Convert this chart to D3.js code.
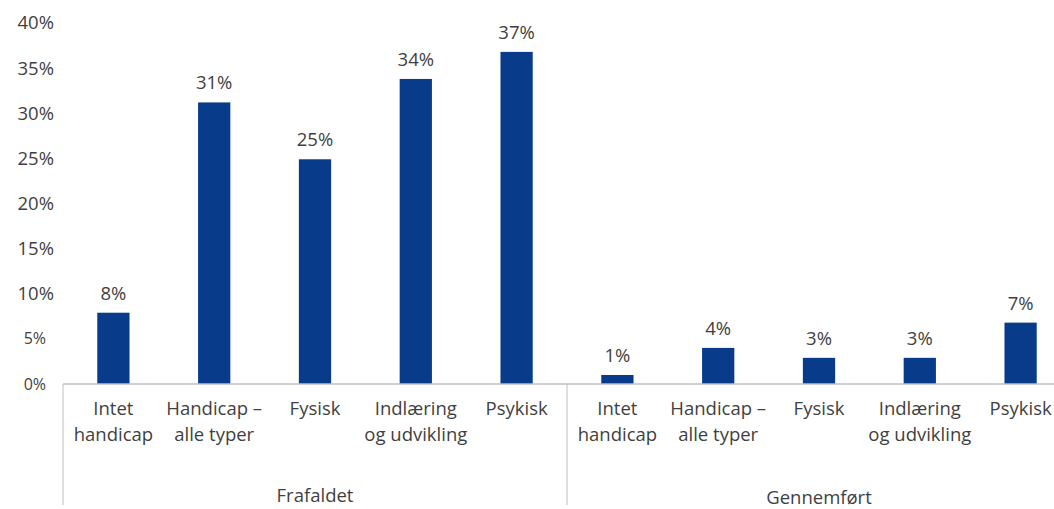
<!DOCTYPE html>
<html>
<head>
<meta charset="utf-8">
<script src="https://cdn.jsdelivr.net/npm/d3@7"></script>
<style>
  body { margin: 0; background: #fff; overflow: hidden; }
  text { font-family: "Open Sans", sans-serif; fill: #3f3f3f; }
</style>
</head>
<body>
<script>
let width = 1054;
let height = 509;

// data
let groups = ["Frafaldet", "Gennemført"];
let categories = ["Intet\nhandicap", "Handicap –\nalle typer", "Fysisk", "Indlæring\nog udvikling", "Psykisk"];
let frafaldet = [0.079, 0.312, 0.249, 0.338, 0.368];
let gennemfort = [0.010, 0.040, 0.029, 0.029, 0.068];
let yTicks = [0, 0.05, 0.10, 0.15, 0.20, 0.25, 0.30, 0.35, 0.40];

let rows = [];
groups.forEach((g, i) => {
	let vals = i === 0 ? frafaldet : gennemfort;
	categories.forEach((c, j) => rows.push({ group: g, cat: c, value: vals[j] }));
});

let svg = d3.select("body")
.append("svg")
.attr("width", width)
.attr("height", height);

let x0 = d3.scaleBand().domain(groups).range([63, 1071]);
let x1 = d3.scaleBand().domain(categories).range([0, x0.bandwidth()])
.paddingInner(0.68).paddingOuter(0.34);
let y = d3.scaleLinear().domain([0, 0.40]).range([384, 23]);
let pct = d3.format(".0%");

// y tick labels
svg.append("g")
.selectAll("text")
.data(yTicks)
.enter()
.append("text")
.attr("x", d => d < 0.1 ? 46 : 54)
.attr("y", d => y(d))
.attr("dy", "0.35em")
.attr("text-anchor", "end")
.attr("font-size", d => d < 0.1 ? 16 : 18.5)
.text(pct);

// bars
svg.append("g")
.selectAll("rect")
.data(rows)
.enter()
.append("rect")
.attr("x", d => x0(d.group) + x1(d.cat))
.attr("y", d => y(d.value))
.attr("width", x1.bandwidth())
.attr("height", d => y(0) - y(d.value))
.attr("fill", "#083c8a");

// value labels
svg.append("g")
.selectAll("text")
.data(rows)
.enter()
.append("text")
.attr("x", d => x0(d.group) + x1(d.cat) + x1.bandwidth() / 2)
.attr("y", d => y(d.value) - 13)
.attr("text-anchor", "middle")
.attr("font-size", 18.5)
.text(d => pct(d.value));

// baseline
svg.append("line")
.attr("x1", 63).attr("x2", 1071)
.attr("y1", y(0)).attr("y2", y(0))
.attr("stroke", "#bfbfbf")
.attr("stroke-width", 1.5);

// group separators
svg.append("g")
.selectAll("line")
.data(groups.map(g => x0(g)).concat([x0.range()[1]]))
.enter()
.append("line")
.attr("x1", d => d).attr("x2", d => d)
.attr("y1", y(0)).attr("y2", 505)
.attr("stroke", "#bfbfbf")
.attr("stroke-width", 1);

// category labels
let catLabel = svg.append("g")
.selectAll("text")
.data(rows)
.enter()
.append("text")
.attr("text-anchor", "middle")
.attr("font-size", 18.5)
.attr("transform", d => "translate(" + (x0(d.group) + x1(d.cat) + x1.bandwidth() / 2) + " 0)");

catLabel.selectAll("tspan")
.data(d => d.cat.split("\n"))
.enter()
.append("tspan")
.attr("x", 0)
.attr("y", (d, i) => 415 + i * 26)
.text(d => d);

// group labels
svg.append("g")
.selectAll("text")
.data(groups)
.enter()
.append("text")
.attr("x", d => x0(d) + x0.bandwidth() / 2)
.attr("y", (d, i) => 502 + i * 2)
.attr("text-anchor", "middle")
.attr("font-size", 18.5)
.text(d => d);
</script>
</body>
</html>
